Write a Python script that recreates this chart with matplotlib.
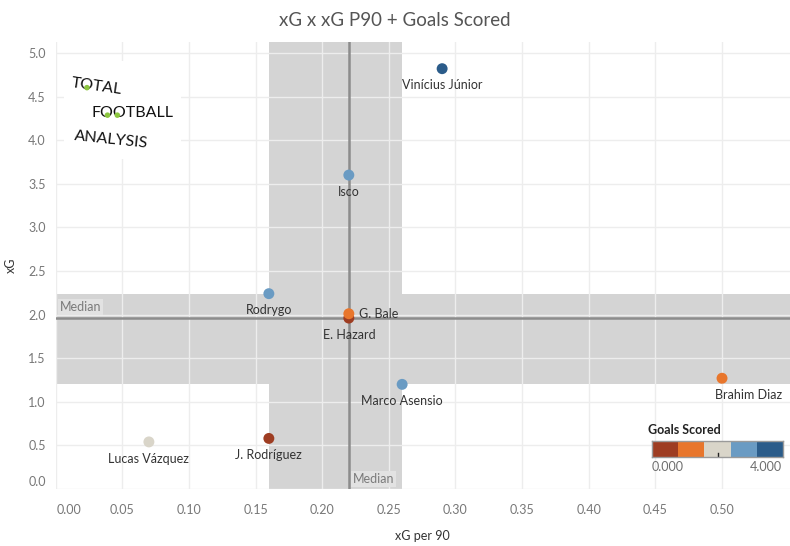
import numpy as np
import matplotlib
matplotlib.use("Agg")
import matplotlib.pyplot as plt
from matplotlib.patches import Rectangle
import matplotlib.transforms as mtransforms

plt.rcParams['font.family'] = ['Lato', 'DejaVu Sans']

# ---- data ----
players = ["Vinícius Júnior", "Isco", "Rodrygo", "G. Bale", "E. Hazard",
           "Marco Asensio", "Brahim Diaz", "J. Rodríguez", "Lucas Vázquez"]
xg_p90 = [0.29, 0.22, 0.16, 0.22, 0.22, 0.26, 0.50, 0.16, 0.07]
xg = [4.82, 3.60, 2.24, 2.01, 1.96, 1.20, 1.27, 0.58, 0.54]
goals = [4, 3, 3, 1, 0, 3, 1, 0, 2]
x_ticks = [0.00, 0.05, 0.10, 0.15, 0.20, 0.25, 0.30, 0.35, 0.40, 0.45, 0.50]
y_ticks = [0.0, 0.5, 1.0, 1.5, 2.0, 2.5, 3.0, 3.5, 4.0, 4.5, 5.0]
legend_colors = ["#9E3D22", "#E8762C", "#D9D5C9", "#6A9BC3", "#2B5C8A"]
legend_range = [0.0, 4.0]

# label placement (offset in points; style only)
label_style = {
    "G. Bale": dict(dx=7, dy=0, ha="left", va="center"),
    "Brahim Diaz": dict(dx=19, dy=-12, ha="center", va="center"),
}

fig = plt.figure(figsize=(7.9, 5.46), dpi=100)
ax = fig.add_axes([55.6 / 790, (546 - 489) / 546, (790 - 55.6) / 790, (489 - 42) / 546])
ax.set_xlim(0, 0.551)
ax.set_ylim(0, 5.126)

x = np.array(xg_p90)
y = np.array(xg)
xmed, ymed = np.median(x), np.median(y)
x25, x75 = np.percentile(x, [25, 75])
y25, y75 = np.percentile(y, [25, 75])

band = "#D4D4D4"
ax.axvspan(x25, x75, color=band, lw=0, zorder=1)
ax.axhspan(y25, y75, color=band, lw=0, zorder=1)

ax.set_xticks(x_ticks)
ax.set_yticks(y_ticks)
ax.grid(True, color="#EDEDED", lw=1, zorder=2)
ax.set_axisbelow(False)
for s in ax.spines.values():
    s.set_visible(False)
ax.tick_params(axis="x", length=0, labelsize=9, labelcolor="#777777", pad=11)
ax.tick_params(axis="y", length=0, labelsize=9, labelcolor="#777777", pad=7)
ax.set_xticklabels([f"{v:.2f}" for v in x_ticks])
ax.set_yticklabels([f"{v:.1f}" for v in y_ticks])
# edge labels nudged inward like the reference
xl0 = ax.get_xticklabels()[0]
xl0.set_transform(xl0.get_transform() + mtransforms.ScaledTranslation(13 / 100, 0, fig.dpi_scale_trans))
yl0 = ax.get_yticklabels()[0]
yl0.set_transform(yl0.get_transform() + mtransforms.ScaledTranslation(0, 8 / 100, fig.dpi_scale_trans))

ax.axvline(xmed, color="#8C8C8C", lw=1.8, zorder=3)
ax.axhline(ymed, color="#8C8C8C", lw=1.8, zorder=3)

# Median labels
ax.annotate("Median", xy=(0, ymed), xytext=(3, 8), textcoords="offset points",
            ha="left", va="center", fontsize=9, color="#7A7A7A", zorder=4,
            bbox=dict(boxstyle="square,pad=0.15", fc="#E2E2E2", ec="none"))
ax.annotate("Median", xy=(xmed, 0), xytext=(3, 7), textcoords="offset points",
            ha="left", va="center", fontsize=9, color="#7A7A7A", zorder=4,
            bbox=dict(boxstyle="square,pad=0.15", fc="#E2E2E2", ec="none"))

# points
bounds = np.linspace(legend_range[0], legend_range[1], len(legend_colors) + 1)
def col(g):
    i = np.searchsorted(bounds, g, side="right") - 1
    return legend_colors[min(max(i, 0), len(legend_colors) - 1)]

order = list(range(len(players)))
order.sort(key=lambda i: -y[i] if players[i] != "G. Bale" else 99)
for i in order:
    ax.scatter(x[i], y[i], s=62, color=col(goals[i]), edgecolor="none", zorder=6)

for i, name in enumerate(players):
    st = label_style.get(name, dict(dx=0, dy=-12, ha="center", va="center"))
    ax.annotate(name, xy=(x[i], y[i]), xytext=(st["dx"], st["dy"]),
                textcoords="offset points", ha=st["ha"], va=st["va"],
                fontsize=9, color="#333333", zorder=7)

ax.set_xlabel("xG per 90", fontsize=9, color="#333333", labelpad=10)
ax.set_ylabel("xG", fontsize=9, color="#333333", labelpad=8)

fig.text(0.5, 1 - 20 / 546, "xG x xG P90 + Goals Scored", ha="center", va="center",
         fontsize=13.5, color="#555555")

# logo
ax.add_patch(Rectangle((0.006, 3.79), 0.088, 1.12, transform=ax.transData,
                       fc="white", ec="none", zorder=5))
logo_kw = dict(fontsize=11.5, color="#111111", zorder=6, fontfamily="Lato")
t1 = ax.text(0.031, 4.62, "TOTAL", rotation=-8, ha="center", va="center", **logo_kw)
t2 = ax.text(0.058, 4.31, "FOOTBALL", rotation=0, ha="center", va="center", **logo_kw)
t3 = ax.text(0.0416, 4.00, "ANALYSIS", rotation=-6, ha="center", va="center", **logo_kw)
fig.canvas.draw()
r = fig.canvas.get_renderer()
inv = ax.transData.inverted()
dots = []
for t, fracs in ((t1, [0.31]), (t2, [0.19, 0.31])):
    bb = t.get_window_extent(r)
    for f in fracs:
        px = bb.x0 + f * bb.width
        py = bb.y0 + bb.height * (0.5 + (0.5 - f) * 0.12 if t is t1 else 0.5) - 2
        dots.append(inv.transform((px, py)))
dots = np.array(dots)
ax.scatter(dots[:, 0], dots[:, 1], s=16, color="#8CC63F", edgecolor="none", zorder=7)

# legend
fig.text(648 / 790, 1 - 430 / 546, "Goals Scored", ha="left", va="center",
         fontsize=9, color="#222222", fontweight="bold")
lax = fig.add_axes([652 / 790, 1 - 457 / 546, (783 - 652) / 790, 16 / 546])
lax.imshow(np.arange(len(legend_colors))[None, :],
           cmap=matplotlib.colors.ListedColormap(legend_colors), aspect="auto",
           extent=[legend_range[0], legend_range[1], 0, 1])
lax.set_xticks([]); lax.set_yticks([])
for s in lax.spines.values():
    s.set_color("#9A9A9A"); s.set_linewidth(1)
lax.plot([2, 2], [0, 0.22], color="#222222", lw=1)
fig.text(668 / 790, 1 - 467 / 546, f"{legend_range[0]:.3f}", ha="center", va="center",
         fontsize=9, color="#6E6E6E")
fig.text(766 / 790, 1 - 467 / 546, f"{legend_range[1]:.3f}", ha="center", va="center",
         fontsize=9, color="#6E6E6E")

fig.savefig("out.png", dpi=100)
